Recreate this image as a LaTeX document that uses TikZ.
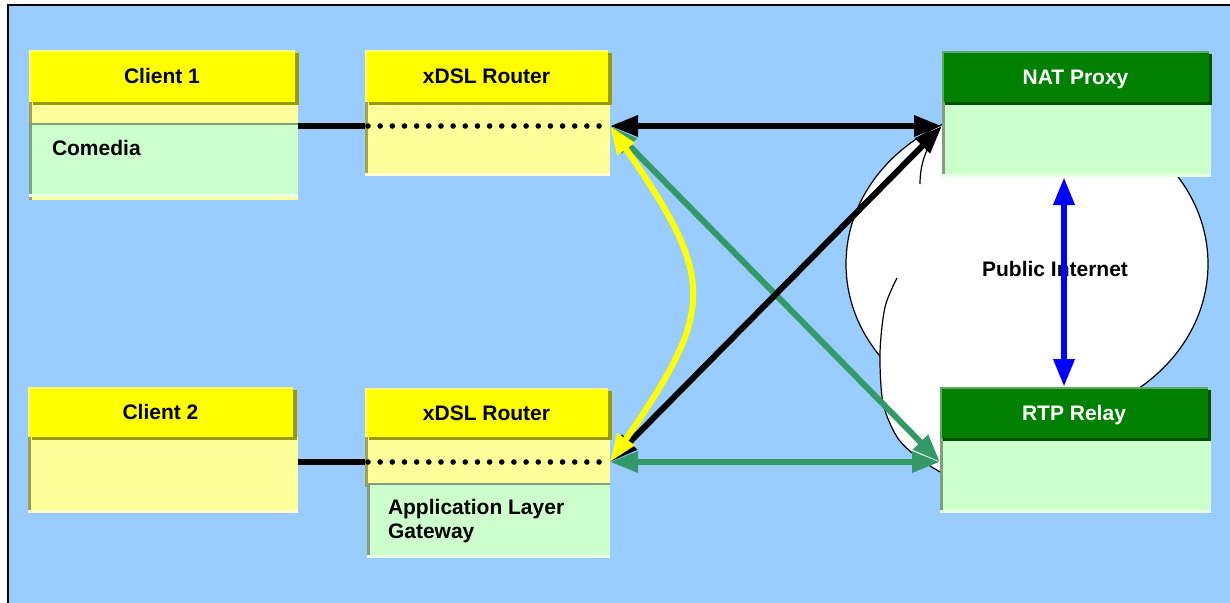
\documentclass[tikz,border=0pt]{standalone}
\usepackage{fontspec}
\setmainfont{Liberation Sans}
\usetikzlibrary{arrows.meta,bending,calc,shadows}

\definecolor{bg}{HTML}{99CCFF}
\definecolor{hdyellow}{HTML}{FFFF00}
\definecolor{hdyellowdark}{HTML}{999900}
\definecolor{hdyellowlight}{HTML}{FFFF70}
\definecolor{bodyyellow}{HTML}{FFFF99}
\definecolor{bodyyellowdark}{HTML}{A09F55}
\definecolor{bodyyellowlight}{HTML}{FFFFCC}
\definecolor{bodygreen}{HTML}{CCFFCC}
\definecolor{bodygreendark}{HTML}{7F9F7F}
\definecolor{bodygreenlight}{HTML}{E8FFE8}
\definecolor{hdgreen}{HTML}{008000}
\definecolor{hdgreendark}{HTML}{005000}
\definecolor{hdgreenlight}{HTML}{60A860}
\definecolor{linkgreen}{HTML}{339966}

\tikzset{
  >={Triangle[length=28pt,width=20pt]},
  boxpart/.style={draw=none, inner sep=0pt, outer sep=0pt, anchor=north west},
  headfont/.style={font=\fontsize{21}{24}\selectfont\bfseries, text height=15pt, text depth=0pt},
  yhead/.style={boxpart, headfont, fill=hdyellow, text=black,
    drop shadow={shadow xshift=4pt, shadow yshift=-3pt, fill=hdyellowdark, opacity=1}},
  ghead/.style={boxpart, headfont, fill=hdgreen, text=white,
    drop shadow={shadow xshift=3pt, shadow yshift=-3pt, fill=hdgreendark, opacity=1}},
  ybody/.style={boxpart, fill=bodyyellow},
  gbody/.style={boxpart, fill=bodygreen},
  lbl/.style={inner sep=0pt, outer sep=0pt, text=black,
    font=\fontsize{21}{23.5}\selectfont\bfseries},
  link/.style={line width=6pt},
  cloudline/.style={draw=black, line width=1.2pt},
}

% sunken edges: dark on the left, light at the bottom
\newcommand{\leftedge}[2]{\draw[#2, line width=3pt] ([xshift=1.5pt]#1.north west) -- ([xshift=1.5pt]#1.south west);}
\newcommand{\bottomedge}[2]{\draw[#2, line width=3pt] ([yshift=1.5pt]#1.south west) -- ([yshift=1.5pt]#1.south east);}
\newcommand{\topedge}[2]{\draw[#2, line width=2pt] ([yshift=-1pt]#1.north west) -- ([yshift=-1pt]#1.north east);}

\begin{document}
\begin{tikzpicture}[x=1pt, y=-1pt]
\useasboundingbox (0,0) rectangle (1230,602);

% panel
\fill[bg] (7.5,5.5) rectangle (1240,612);
\draw[black, line width=2pt] (7.5,612) -- (7.5,5.5) -- (1240,5.5);

% the Internet cloud
\fill[white] (1027,264) ellipse [x radius=181pt, y radius=158pt];
\draw[cloudline] (1027,264) ellipse [x radius=181pt, y radius=158pt];
\fill[white] plot[smooth] coordinates {(897,278) (885,307) (880,353) (883,403) (897,437) (917,457) (940,472)}
  -- (1000,472) -- (1000,278) -- cycle;
\draw[cloudline] plot[smooth] coordinates {(897,278) (885,307) (880,353) (883,403) (897,437) (917,457) (940,472)};
\draw[cloudline] (920,184) .. controls (920,168) and (924,152) .. (934,138);
\node[lbl] (inet) at (1055,269) {Public Internet};

% client 1 body
\node[ybody, minimum width=269pt, minimum height=98pt] (c1body) at (29,102) {};
\leftedge{c1body}{bodyyellowdark}
\node[gbody, minimum width=269pt, minimum height=74pt] (c1green) at (29,123) {};
\leftedge{c1green}{bodygreendark}
\bottomedge{c1green}{bodygreenlight}
\topedge{c1green}{bodygreendark}

% client 2 body
\node[ybody, minimum width=270pt, minimum height=76pt] (c2body) at (28,437) {};
\leftedge{c2body}{bodyyellowdark}
\bottomedge{c2body}{bodyyellowlight}

% router bodies
\node[ybody, minimum width=245pt, minimum height=74pt] (r1body) at (365,102) {};
\leftedge{r1body}{bodyyellowdark}
\bottomedge{r1body}{bodyyellowlight}
\node[ybody, minimum width=245pt, minimum height=50pt] (r2body) at (365,437) {};
\leftedge{r2body}{bodyyellowdark}
\node[gbody, minimum width=243pt, minimum height=75pt] (r2green) at (367,483) {};
\leftedge{r2green}{bodygreendark}
\bottomedge{r2green}{bodygreenlight}
\topedge{r2green}{bodygreendark}

% server bodies
\node[gbody, minimum width=269pt, minimum height=75pt] (natbody) at (942,102) {};
\leftedge{natbody}{bodygreendark}
\bottomedge{natbody}{bodygreenlight}
\node[gbody, minimum width=271pt, minimum height=75pt] (rtpbody) at (940,438) {};
\leftedge{rtpbody}{bodygreendark}
\bottomedge{rtpbody}{bodygreenlight}

% headers
\node[yhead, minimum width=266pt, minimum height=52pt] (c1head) at (29,50) {Client 1};
\node[yhead, minimum width=265pt, minimum height=50pt] (c2head) at (28,387) {Client 2};
\node[yhead, minimum width=243pt, minimum height=52pt] (r1head) at (365,50) {xDSL Router};
\node[yhead, minimum width=243pt, minimum height=49pt] (r2head) at (365,388) {xDSL Router};
\node[ghead, minimum width=267pt, minimum height=51pt] (nathead) at (942,51) {NAT Proxy};
\node[ghead, minimum width=268pt, minimum height=51pt] (rtphead) at (940,387) {RTP Relay};

\foreach \n/\l in {c1head/hdyellowlight, c2head/hdyellowlight, r1head/hdyellowlight,
    r2head/hdyellowlight, nathead/hdgreenlight, rtphead/hdgreenlight}{
  \draw[\l, line width=2pt] ([xshift=1pt]\n.south west) -- ([xshift=1pt,yshift=-1pt]\n.north west)
    -- ([yshift=-1pt]\n.north east);
}

% body texts
\node[lbl, anchor=base west] (comedia) at (52,155) {Comedia};
\node[lbl, anchor=base west, align=left] (alg) at (388,538) {Application Layer\\Gateway};

% ports
\coordinate (c1port) at ($(c1body.north east)+(0,24)$);
\coordinate (r1in)   at ($(r1body.north west)+(0,24)$);
\coordinate (r1port) at ($(r1body.north east)+(0,24)$);
\coordinate (c2port) at ($(c2body.north east)+(0,25)$);
\coordinate (r2in)   at ($(r2body.north west)+(0,25)$);
\coordinate (r2port) at ($(r2body.north east)+(0,25)$);
\coordinate (natport) at ($(natbody.north west)+(0,24)$);
\coordinate (rtpport) at ($(rtpbody.north west)+(0,24)$);
\coordinate (natlow) at ($(natbody.south west)+(122,0)$);
\coordinate (rtptop) at ($(rtphead.north west)+(124,0)$);

% client uplinks and the path through each router
\draw[link, black] (c1port) -- (r1in);
\draw[link, black] (c2port) -- (r2in);
\foreach \i in {0,...,19}{
  \fill ($(r1in)+(3+\i*12.16,0)$) circle (2.8pt);
  \fill ($(r2in)+(3+\i*12.16,0)$) circle (2.8pt);
}

% media and signalling paths
\draw[link, linkgreen, <->] (r1port) -- (rtpport);
\draw[link, linkgreen, <->] (r2port) -- (rtpport);
\draw[link, black, <->] (r1port) -- (natport);
\draw[link, black, <->] (r2port) -- (natport);
\draw[link, hdyellow, <->] (r1port) .. controls (721,284) and (721,304) .. (r2port);
\draw[line width=6.5pt, blue, <->] (natlow) -- (rtptop);

\end{tikzpicture}
\end{document}
